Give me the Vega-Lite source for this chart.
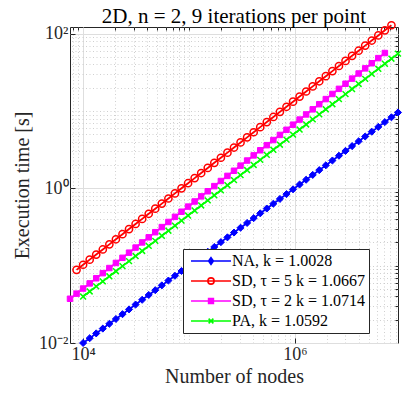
{
 "$schema": "https://vega.github.io/schema/vega-lite/v6.json",
 "width": 328, "height": 316,
 "autosize": {"type": "none"},
 "padding": {"left": 70, "top": 27, "right": 9, "bottom": 52},
 "background": "white",
 "title": {"text": "2D, n = 2, 9 iterations per point", "font": "Liberation Serif", "fontSize": 21, "fontWeight": "normal", "color": "#000000", "frame": "group", "anchor": "middle", "offset": 7, "dy": 15},
 "data": {"values": [
  {"s":"NA","x":9977,"y":0.01},{"s":"NA","x":11510,"y":0.011537},{"s":"NA","x":13270,"y":0.013311},{"s":"NA","x":15310,"y":0.015357},{"s":"NA","x":17660,"y":0.017718},{"s":"NA","x":20370,"y":0.020442},{"s":"NA","x":23500,"y":0.023584},{"s":"NA","x":27100,"y":0.027209},{"s":"NA","x":31260,"y":0.031392},{"s":"NA","x":36060,"y":0.036217},{"s":"NA","x":41590,"y":0.041791},{"s":"NA","x":47970,"y":0.048215},{"s":"NA","x":55340,"y":0.055627},{"s":"NA","x":63830,"y":0.064178},{"s":"NA","x":73620,"y":0.074043},{"s":"NA","x":84920,"y":0.085425},{"s":"NA","x":97950,"y":0.098557},{"s":"NA","x":113000,"y":0.11371},{"s":"NA","x":130300,"y":0.13119},{"s":"NA","x":150300,"y":0.15135},{"s":"NA","x":173400,"y":0.17462},{"s":"NA","x":200000,"y":0.20146},{"s":"NA","x":230700,"y":0.23243},{"s":"NA","x":266100,"y":0.26816},{"s":"NA","x":306900,"y":0.30938},{"s":"NA","x":354000,"y":0.35694},{"s":"NA","x":408300,"y":0.41181},{"s":"NA","x":471000,"y":0.47511},{"s":"NA","x":543300,"y":0.54814},{"s":"NA","x":626600,"y":0.6324},{"s":"NA","x":722800,"y":0.72969},{"s":"NA","x":833700,"y":0.84185},{"s":"NA","x":961600,"y":0.97126},{"s":"NA","x":1109000,"y":1.1206},{"s":"NA","x":1279000,"y":1.2928},{"s":"NA","x":1476000,"y":1.4916},{"s":"NA","x":1702000,"y":1.7209},{"s":"NA","x":1963000,"y":1.9854},{"s":"NA","x":2265000,"y":2.2906},{"s":"NA","x":2612000,"y":2.6427},{"s":"NA","x":3013000,"y":3.049},{"s":"NA","x":3475000,"y":3.5177},{"s":"NA","x":4009000,"y":4.0585},{"s":"NA","x":4624000,"y":4.6823},{"s":"NA","x":5333000,"y":5.4021},{"s":"NA","x":6152000,"y":6.2325},{"s":"NA","x":7096000,"y":7.1906},{"s":"NA","x":8185000,"y":8.2959},{"s":"NA","x":9441000,"y":9.5711},
  {"s":"SD5","x":8650,"y":0.08831},{"s":"SD5","x":9977,"y":0.10278},{"s":"SD5","x":11510,"y":0.11962},{"s":"SD5","x":13270,"y":0.13922},{"s":"SD5","x":15310,"y":0.16203},{"s":"SD5","x":17660,"y":0.18858},{"s":"SD5","x":20370,"y":0.21948},{"s":"SD5","x":23500,"y":0.25545},{"s":"SD5","x":27100,"y":0.2973},{"s":"SD5","x":31260,"y":0.34602},{"s":"SD5","x":36060,"y":0.40272},{"s":"SD5","x":41590,"y":0.46871},{"s":"SD5","x":47970,"y":0.54551},{"s":"SD5","x":55340,"y":0.63491},{"s":"SD5","x":63830,"y":0.73893},{"s":"SD5","x":73620,"y":0.86001},{"s":"SD5","x":84920,"y":1.0009},{"s":"SD5","x":97950,"y":1.1649},{"s":"SD5","x":113000,"y":1.3558},{"s":"SD5","x":130300,"y":1.578},{"s":"SD5","x":150300,"y":1.8365},{"s":"SD5","x":173400,"y":2.1375},{"s":"SD5","x":200000,"y":2.4877},{"s":"SD5","x":230700,"y":2.8954},{"s":"SD5","x":266100,"y":3.3698},{"s":"SD5","x":306900,"y":3.9219},{"s":"SD5","x":354000,"y":4.5646},{"s":"SD5","x":408300,"y":5.3126},{"s":"SD5","x":471000,"y":6.1832},{"s":"SD5","x":543300,"y":7.1963},{"s":"SD5","x":626600,"y":8.3753},{"s":"SD5","x":722800,"y":9.7476},{"s":"SD5","x":833700,"y":11.345},{"s":"SD5","x":961600,"y":13.204},{"s":"SD5","x":1109000,"y":15.368},{"s":"SD5","x":1279000,"y":17.886},{"s":"SD5","x":1476000,"y":20.817},{"s":"SD5","x":1702000,"y":24.228},{"s":"SD5","x":1963000,"y":28.198},{"s":"SD5","x":2265000,"y":32.818},{"s":"SD5","x":2612000,"y":38.194},{"s":"SD5","x":3013000,"y":44.454},{"s":"SD5","x":3475000,"y":51.738},{"s":"SD5","x":4009000,"y":60.215},{"s":"SD5","x":4624000,"y":70.082},{"s":"SD5","x":5333000,"y":81.565},{"s":"SD5","x":6152000,"y":94.932},{"s":"SD5","x":7096000,"y":110.49},{"s":"SD5","x":8185000,"y":128.59},
  {"s":"SD2","x":7499,"y":0.037325},{"s":"SD2","x":8650,"y":0.043472},{"s":"SD2","x":9977,"y":0.050632},{"s":"SD2","x":11510,"y":0.058971},{"s":"SD2","x":13270,"y":0.068684},{"s":"SD2","x":15310,"y":0.079996},{"s":"SD2","x":17660,"y":0.093171},{"s":"SD2","x":20370,"y":0.10852},{"s":"SD2","x":23500,"y":0.12639},{"s":"SD2","x":27100,"y":0.14721},{"s":"SD2","x":31260,"y":0.17142},{"s":"SD2","x":36060,"y":0.19966},{"s":"SD2","x":41590,"y":0.23255},{"s":"SD2","x":47970,"y":0.27085},{"s":"SD2","x":55340,"y":0.31546},{"s":"SD2","x":63830,"y":0.36742},{"s":"SD2","x":73620,"y":0.42793},{"s":"SD2","x":84920,"y":0.49841},{"s":"SD2","x":97950,"y":0.5805},{"s":"SD2","x":113000,"y":0.67611},{"s":"SD2","x":130300,"y":0.78737},{"s":"SD2","x":150300,"y":0.91705},{"s":"SD2","x":173400,"y":1.0681},{"s":"SD2","x":200000,"y":1.244},{"s":"SD2","x":230700,"y":1.4489},{"s":"SD2","x":266100,"y":1.6875},{"s":"SD2","x":306900,"y":1.9655},{"s":"SD2","x":354000,"y":2.2892},{"s":"SD2","x":408300,"y":2.6662},{"s":"SD2","x":471000,"y":3.1054},{"s":"SD2","x":543300,"y":3.6163},{"s":"SD2","x":626600,"y":4.2119},{"s":"SD2","x":722800,"y":4.9056},{"s":"SD2","x":833700,"y":5.7136},{"s":"SD2","x":961600,"y":6.6546},{"s":"SD2","x":1109000,"y":7.7507},{"s":"SD2","x":1279000,"y":9.0273},{"s":"SD2","x":1476000,"y":10.514},{"s":"SD2","x":1702000,"y":12.246},{"s":"SD2","x":1963000,"y":14.263},{"s":"SD2","x":2265000,"y":16.608},{"s":"SD2","x":2612000,"y":19.343},{"s":"SD2","x":3013000,"y":22.529},{"s":"SD2","x":3475000,"y":26.24},{"s":"SD2","x":4009000,"y":30.561},{"s":"SD2","x":4624000,"y":35.595},{"s":"SD2","x":5333000,"y":41.457},{"s":"SD2","x":6152000,"y":48.285},{"s":"SD2","x":7096000,"y":56.238},
  {"s":"PA","x":9977,"y":0.039902},{"s":"PA","x":11510,"y":0.046391},{"s":"PA","x":13270,"y":0.053936},{"s":"PA","x":15310,"y":0.062707},{"s":"PA","x":17660,"y":0.072905},{"s":"PA","x":20370,"y":0.084762},{"s":"PA","x":23500,"y":0.098547},{"s":"PA","x":27100,"y":0.11457},{"s":"PA","x":31260,"y":0.13321},{"s":"PA","x":36060,"y":0.15487},{"s":"PA","x":41590,"y":0.18005},{"s":"PA","x":47970,"y":0.20933},{"s":"PA","x":55340,"y":0.24338},{"s":"PA","x":63830,"y":0.28296},{"s":"PA","x":73620,"y":0.32897},{"s":"PA","x":84920,"y":0.38247},{"s":"PA","x":97950,"y":0.44467},{"s":"PA","x":113000,"y":0.51699},{"s":"PA","x":130300,"y":0.60107},{"s":"PA","x":150300,"y":0.69882},{"s":"PA","x":173400,"y":0.81242},{"s":"PA","x":200000,"y":0.94455},{"s":"PA","x":230700,"y":1.0982},{"s":"PA","x":266100,"y":1.2768},{"s":"PA","x":306900,"y":1.4844},{"s":"PA","x":354000,"y":1.7258},{"s":"PA","x":408300,"y":2.0065},{"s":"PA","x":471000,"y":2.3328},{"s":"PA","x":543300,"y":2.7122},{"s":"PA","x":626600,"y":3.1532},{"s":"PA","x":722800,"y":3.6658},{"s":"PA","x":833700,"y":4.2619},{"s":"PA","x":961600,"y":4.955},{"s":"PA","x":1109000,"y":5.7608},{"s":"PA","x":1279000,"y":6.6977},{"s":"PA","x":1476000,"y":7.787},{"s":"PA","x":1702000,"y":9.0534},{"s":"PA","x":1963000,"y":10.526},{"s":"PA","x":2265000,"y":12.237},{"s":"PA","x":2612000,"y":14.227},{"s":"PA","x":3013000,"y":16.539},{"s":"PA","x":3475000,"y":19.229},{"s":"PA","x":4009000,"y":22.356},{"s":"PA","x":4624000,"y":25.992},{"s":"PA","x":5333000,"y":30.219},{"s":"PA","x":6152000,"y":35.133},{"s":"PA","x":7096000,"y":40.847},{"s":"PA","x":8185000,"y":47.49},{"s":"PA","x":9441000,"y":55.213}
 ]},
 "layer": [
  {
   "mark": {"type": "line", "strokeWidth": 1.8},
   "encoding": {
    "x": {"field": "x", "type": "quantitative",
     "scale": {"type": "log", "domain": [7499, 9441000], "nice": false},
     "axis": {"orient": "bottom", "values": [10000, 1000000], "labelExpr": "datum.value < 100000 ? '10⁴' : '10⁶'", "grid": true, "gridColor": "#dedede", "gridWidth": 1, "ticks": true, "tickSize": -5, "tickColor": "#262626", "domain": false, "labelPadding": 7, "title": "Number of nodes", "titlePadding": 3}},
    "y": {"field": "y", "type": "quantitative",
     "scale": {"type": "log", "domain": [0.01, 122], "nice": false},
     "axis": {"orient": "left", "values": [0.01, 1, 100], "labelExpr": "datum.value < 0.1 ? '10⁻²' : datum.value < 10 ? '10⁰' : '10²'", "grid": true, "gridColor": "#dedede", "gridWidth": 1, "ticks": true, "tickSize": -5, "tickColor": "#262626", "domain": false, "labelPadding": 7, "title": "Execution time [s]", "titlePadding": 6}},
    "color": {"field": "s", "type": "nominal",
     "scale": {"domain": ["NA", "SD5", "SD2", "PA"], "range": ["#0000ff", "#ff0000", "#ff00ff", "#00ff00"]},
     "legend": {"orient": "none", "legendX": 113, "legendY": 222, "title": null, "padding": 4, "fillColor": "white", "strokeColor": "#262626", "symbolSize": 64, "labelOffset": 29, "rowPadding": 4, "labelFont": "Liberation Serif", "labelFontSize": 16, "labelColor": "#000000",
      "labelExpr": "datum.value === 'NA' ? 'NA, k = 1.0028' : datum.value === 'SD5' ? 'SD, τ = 5 k = 1.0667' : datum.value === 'SD2' ? 'SD, τ = 2 k = 1.0714' : 'PA, k = 1.0592'",
      "encode": {"symbols": {"update": {
       "shape": {"signal": "datum.index === 0 ? 'M-1,0H9M4,-0.85L4.6,0L4,0.85L3.4,0Z' : datum.index === 1 ? 'M-1,0H9M3.22,0A0.78,0.78 0 1,0 4.78,0A0.78,0.78 0 1,0 3.22,0Z' : datum.index === 2 ? 'M-1,0H9M3.4,-0.6H4.6V0.6H3.4Z' : 'M-1,0H9M3.4,-0.6L4.6,0.6M3.4,0.6L4.6,-0.6'"},
       "fill": {"signal": "datum.index === 0 ? '#0000ff' : datum.index === 2 ? '#ff00ff' : 'transparent'"},
       "stroke": {"signal": "datum.index === 0 ? '#0000ff' : datum.index === 1 ? '#ff0000' : datum.index === 2 ? '#ff00ff' : '#00ff00'"},
       "strokeWidth": {"value": 1.6},
       "opacity": {"value": 1}
      }}}}
    }
   }
  },
  {
   "transform": [{"filter": "datum.s === 'NA'"}],
   "mark": {"type": "point", "shape": "diamond", "filled": true, "color": "#0000ff", "stroke": "#0000ff", "strokeWidth": 1, "size": 50, "opacity": 1},
   "encoding": {
    "x": {"field": "x", "type": "quantitative",
     "axis": {"orient": "top", "values": [8000, 9000, 20000, 30000, 40000, 50000, 60000, 70000, 80000, 90000, 100000, 200000, 300000, 400000, 500000, 600000, 700000, 800000, 900000, 2000000, 3000000, 4000000, 5000000, 6000000, 7000000, 8000000, 9000000], "labels": false, "title": null, "domain": false, "grid": true, "gridColor": "#c4c4c4", "gridDash": [1, 2.5], "gridWidth": 0.8, "ticks": true, "tickSize": -3, "tickColor": "#262626"}},
    "y": {"field": "y", "type": "quantitative",
     "axis": {"orient": "right", "values": [0.02, 0.03, 0.04, 0.05, 0.06, 0.07, 0.08, 0.09, 0.1, 0.2, 0.3, 0.4, 0.5, 0.6, 0.7, 0.8, 0.9, 2, 3, 4, 5, 6, 7, 8, 9, 10, 20, 30, 40, 50, 60, 70, 80, 90], "labels": false, "title": null, "domain": false, "grid": true, "gridColor": "#c4c4c4", "gridDash": [1, 2.5], "gridWidth": 0.8, "ticks": true, "tickSize": -3, "tickColor": "#262626"}}
   }
  },
  {
   "transform": [{"filter": "datum.s === 'SD5'"}],
   "mark": {"type": "point", "shape": "circle", "filled": false, "color": "#ff0000", "size": 52, "strokeWidth": 1.5, "opacity": 1},
   "encoding": {
    "x": {"field": "x", "type": "quantitative", "axis": null},
    "y": {"field": "y", "type": "quantitative", "axis": null}
   }
  },
  {
   "transform": [{"filter": "datum.s === 'SD2'"}],
   "mark": {"type": "point", "shape": "square", "filled": true, "color": "#ff00ff", "stroke": "#ff00ff", "strokeWidth": 1, "size": 30, "opacity": 1},
   "encoding": {
    "x": {"field": "x", "type": "quantitative", "axis": null},
    "y": {"field": "y", "type": "quantitative", "axis": null}
   }
  },
  {
   "transform": [{"filter": "datum.s === 'PA'"}],
   "mark": {"type": "point", "shape": "M-1,-1L1,1M-1,1L1,-1", "filled": false, "color": "#00ff00", "size": 34, "strokeWidth": 1.5, "opacity": 1},
   "encoding": {
    "x": {"field": "x", "type": "quantitative", "axis": null},
    "y": {"field": "y", "type": "quantitative", "axis": null}
   }
  }
 ],
 "resolve": {"axis": {"x": "independent", "y": "independent"}},
 "config": {
  "font": "Liberation Serif",
  "view": {"stroke": "#262626", "strokeWidth": 1},
  "axis": {"labelFont": "Liberation Serif", "labelFontSize": 18, "labelColor": "#262626", "titleFont": "Liberation Serif", "titleFontSize": 20, "titleFontWeight": "normal", "titleColor": "#262626"}
 }
}
